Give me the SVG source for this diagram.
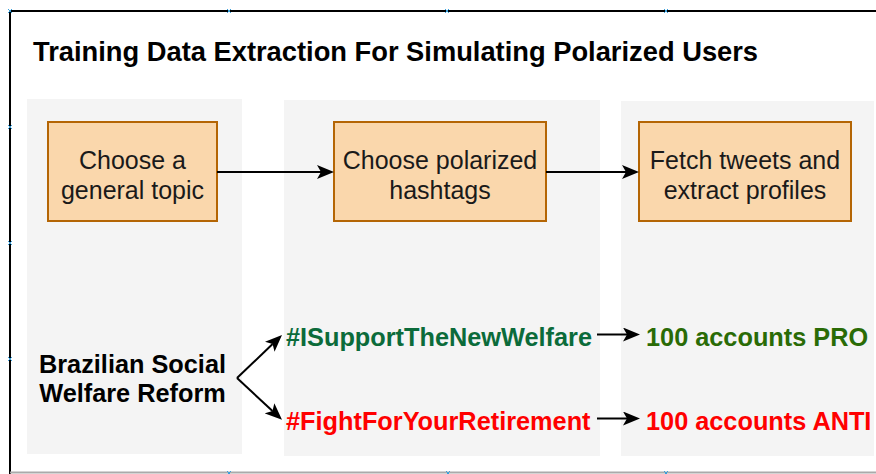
<svg xmlns="http://www.w3.org/2000/svg" width="876" height="474" viewBox="0 0 876 474">
  <defs>
    <marker id="arrow" markerUnits="userSpaceOnUse" markerWidth="18" markerHeight="14" refX="4" refY="7" orient="auto">
      <path d="M0,0 L17,7 L0,14 L4,7 Z" fill="#000"/>
    </marker>
    <style>
      .frame { stroke: #000; stroke-width: 2; fill: none; }
      .panel { fill: #f4f4f4; }
      .box { fill: #fad7ac; stroke: #b46504; stroke-width: 2; }
      .lbl { font-family: "Liberation Sans", Arial, sans-serif; font-size: 25px; fill: #1a1a1a; text-anchor: middle; }
      .bold { font-family: "Liberation Sans", Arial, sans-serif; font-size: 25.3px; font-weight: bold; }
      .title { font-family: "Liberation Sans", Arial, sans-serif; font-size: 27.3px; font-weight: bold; fill: #000; }
      .edge { stroke: #000; stroke-width: 2; fill: none; marker-end: url(#arrow); }
      .pin { stroke: #3aa0dc; stroke-width: 1; }
    </style>
  </defs>

  <rect width="876" height="474" fill="#fff"/>

  <!-- outer frame -->
  <line class="frame" x1="10" y1="11" x2="876" y2="11"/>
  <line class="frame" x1="10" y1="10" x2="10" y2="474"/>
  <line x1="10" y1="472.5" x2="876" y2="472.5" stroke="#aaa" stroke-width="2"/>

  <!-- small handle crosses on the frame -->
  <g class="pin">
    <path d="M8,9 l4,4 M12,9 l-4,4"/>
    <path d="M227,9 l4,4 M231,9 l-4,4"/>
    <path d="M445,9 l4,4 M449,9 l-4,4"/>
    <path d="M664,9 l4,4 M668,9 l-4,4"/>
    <path d="M8,125 l4,4 M12,125 l-4,4"/>
    <path d="M8,241 l4,4 M12,241 l-4,4"/>
    <path d="M8,357 l4,4 M12,357 l-4,4"/>
    <path d="M227,471 l4,4 M231,471 l-4,4"/>
    <path d="M446,471 l4,4 M450,471 l-4,4"/>
    <path d="M664,471 l4,4 M668,471 l-4,4"/>
  </g>

  <text class="title" x="33" y="61">Training Data Extraction For Simulating Polarized Users</text>

  <!-- column backgrounds -->
  <rect class="panel" x="27" y="99" width="215" height="355"/>
  <rect class="panel" x="284" y="100" width="316" height="356"/>
  <rect class="panel" x="621" y="101" width="253" height="355"/>

  <g id="topic">
    <rect class="box" x="48" y="122" width="169" height="99"/>
    <text class="lbl" x="132.5" y="168.5">Choose a</text>
    <text class="lbl" x="132.5" y="198.5">general topic</text>
  </g>

  <g id="hashtags">
    <rect class="box" x="334" y="122" width="212" height="99"/>
    <text class="lbl" x="440" y="168.5">Choose polarized</text>
    <text class="lbl" x="440" y="198.5">hashtags</text>
  </g>

  <g id="fetch">
    <rect class="box" x="639" y="122" width="212" height="99"/>
    <text class="lbl" x="745" y="168.5">Fetch tweets and</text>
    <text class="lbl" x="745" y="198.5">extract profiles</text>
  </g>

  <g id="reform">
    <text class="bold" x="132.5" y="373" text-anchor="middle" fill="#000">Brazilian Social</text>
    <text class="bold" x="132.5" y="402" text-anchor="middle" fill="#000">Welfare Reform</text>
  </g>

  <g id="tag-pro">
    <text class="bold" x="286" y="346" fill="#0b6b3a">#ISupportTheNewWelfare</text>
  </g>

  <g id="tag-anti">
    <text class="bold" x="286" y="430" fill="#ff0000">#FightForYourRetirement</text>
  </g>

  <g id="accounts-pro">
    <text class="bold" x="646" y="346" fill="#2a6b06">100 accounts PRO</text>
  </g>

  <g id="accounts-anti">
    <text class="bold" x="646" y="430" fill="#ff0000">100 accounts ANTI</text>
  </g>

  <g id="connectors">
    <line class="edge" x1="217" y1="172" x2="321" y2="172"/>
    <line class="edge" x1="546" y1="172" x2="626" y2="172"/>
    <line class="edge" x1="237" y1="378" x2="272.6" y2="344"/>
    <line class="edge" x1="237" y1="378" x2="272.5" y2="411"/>
    <line class="edge" x1="597" y1="334.5" x2="627" y2="334.5"/>
    <line class="edge" x1="597" y1="418.5" x2="627" y2="418.5"/>
  </g>
</svg>
